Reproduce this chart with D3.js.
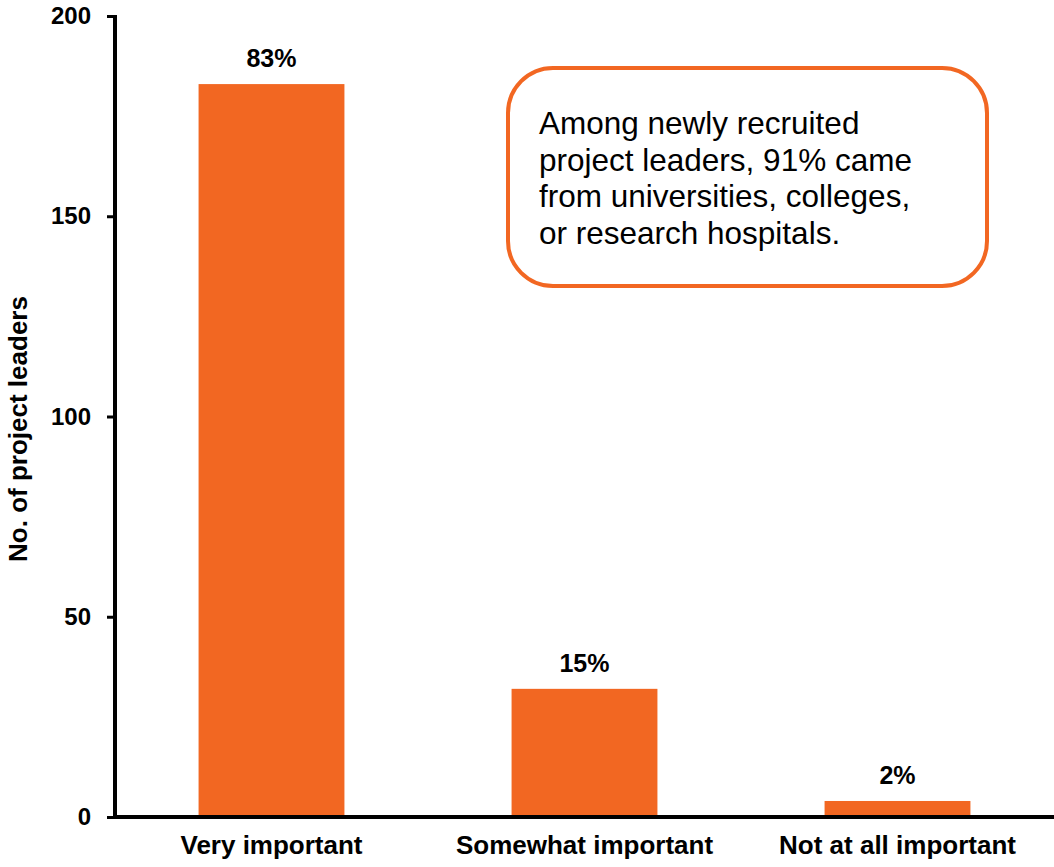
<!DOCTYPE html>
<html><head><meta charset="utf-8">
<script src="https://cdn.jsdelivr.net/npm/d3@7"></script>
<style>body{margin:0;background:#fff}svg{display:block}text{font-family:"Liberation Sans",Arial,sans-serif}</style>
</head><body>
<svg id="c" width="1054" height="867"></svg>
<script>
const categories = ["Very important", "Somewhat important", "Not at all important"];
const values = [183, 32, 4];
const pctLabels = ["83%", "15%", "2%"];
const yTicks = [0, 50, 100, 150, 200];
const yTitle = "No. of project leaders";
const noteLines = ["Among newly recruited", "project leaders, 91% came", "from universities, colleges,", "or research hospitals."];

const color = "#F26722";
const svg = d3.select("#c");
const x = d3.scaleBand().domain(categories).range([115, 1054]).paddingInner(0.534).paddingOuter(0.267);
const y = d3.scaleLinear().domain([0, 200]).range([817, 16]);

svg.selectAll("rect.bar").data(values).join("rect").attr("class","bar")
  .attr("x", (d,i)=>x(categories[i])).attr("width", x.bandwidth())
  .attr("y", d=>y(d)).attr("height", d=>y(0)-y(d)).attr("fill", color);

svg.selectAll("text.val").data(values).join("text").attr("class","val")
  .attr("x",(d,i)=>x(categories[i])+x.bandwidth()/2).attr("y", d=>y(d)-17)
  .attr("text-anchor","middle").attr("font-weight","bold").attr("font-size",25).attr("fill","#000")
  .text((d,i)=>pctLabels[i]);

// y axis
const ya = svg.append("g").attr("transform","translate(115,0)")
  .call(d3.axisLeft(y).tickValues(yTicks).tickSize(8).tickPadding(16));
ya.select(".domain").attr("stroke","#000").attr("stroke-width",4).attr("d","M0,15V819");
ya.selectAll(".tick line").attr("stroke","#000").attr("stroke-width",3);
ya.selectAll(".tick text").attr("font-size",24).attr("font-weight","bold").attr("fill","#000")
  .attr("font-family","Liberation Sans, Arial, sans-serif");

// x axis
const xa = svg.append("g").attr("transform","translate(0,817)")
  .call(d3.axisBottom(x).tickSize(0).tickPadding(19));
xa.select(".domain").attr("stroke","#000").attr("stroke-width",4).attr("d","M113,0H1054");
xa.selectAll(".tick text").attr("font-size",26).attr("font-weight","bold").attr("fill","#000")
  .attr("font-family","Liberation Sans, Arial, sans-serif");

svg.append("text").attr("transform","translate(27,429) rotate(-90)")
  .attr("text-anchor","middle").attr("font-weight","bold").attr("font-size",26).text(yTitle);

// note box
svg.append("rect").attr("x",508).attr("y",68).attr("width",479).attr("height",218)
  .attr("rx",45).attr("ry",45).attr("fill","#fff").attr("stroke",color).attr("stroke-width",4);
svg.append("g").selectAll("text").data(noteLines).join("text")
  .attr("x",539).attr("y",(d,i)=>134+i*36.7).attr("font-size",31.5).attr("fill","#000").text(d=>d);
</script>
</body></html>
